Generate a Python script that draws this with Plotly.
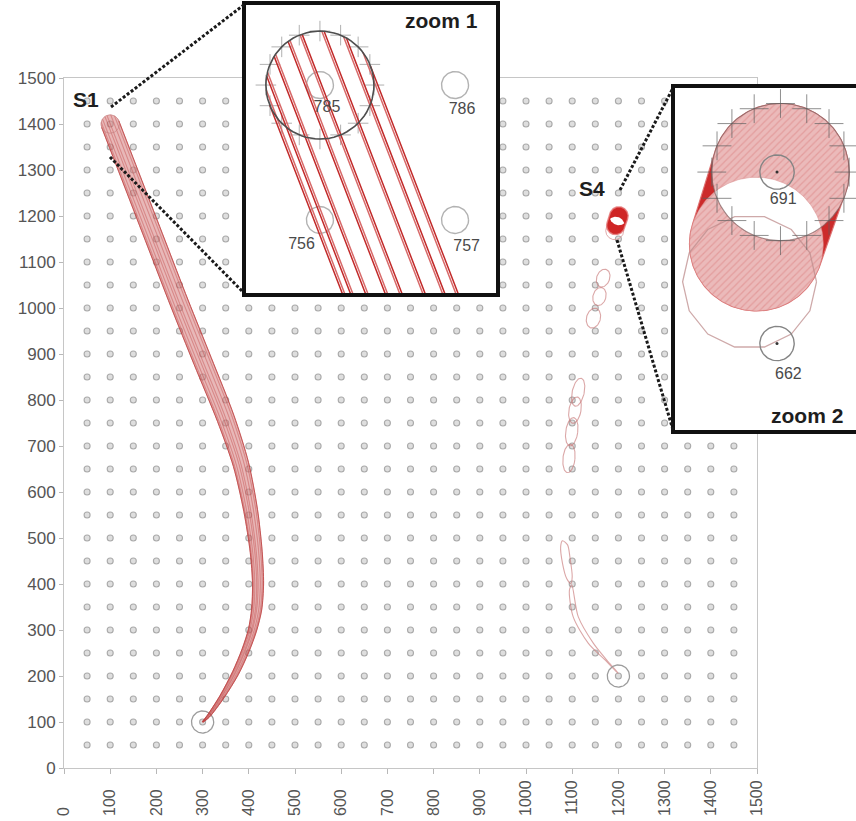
import numpy as np
import plotly.graph_objects as go

W, H = 856, 821

# ---------------------------------------------------------------- data
grid_x = list(range(50, 1451, 50))          # sensor columns (mm)
grid_y = list(range(50, 1451, 50))          # sensor rows (mm)
axis_ticks = list(range(0, 1501, 100))

# S1: centre line of the moving disc and its radius (mm)
s1_x = [100, 150, 200, 250, 300, 350, 383, 404, 416, 420, 417, 408, 393, 371, 342, 312, 300]
s1_y = [1400, 1270, 1140, 1010, 885, 760, 660, 560, 470, 400, 345, 300, 256, 206, 155, 112, 100]
s1_r = [20, 20, 20, 20, 20, 19, 17, 15, 13, 12, 11, 9, 8, 7, 5, 3, 1]
# tracked rim points, as a fraction of the radius across the track
s1_rim = [-1.0, -0.86, -0.6, -0.26, 0.03, 0.43, 0.77, 1.0]

# S4: disc at the start and at the end of its dwell, plus the ghost outline
s4_disc_x = [1201, 1194]
s4_disc_y = [1200, 1179]
s4_disc_r = [20, 19.5]
s4_ghost_x, s4_ghost_y, s4_ghost_r = 1192, 1168, 19.5

# S4 wandering loops: centre, half-width, half-height, tilt (deg)
loop_cx = [1167, 1159, 1146, 1113, 1106, 1099, 1093]
loop_cy = [1065, 1025, 978, 817, 778, 731, 673]
loop_a = [14, 14, 15, 13, 13, 13, 13]
loop_b = [20, 20, 22, 31, 29, 31, 31]
loop_tilt = [20, 15, 15, 12, 10, 8, 6]

# S4 final stretch
tail1_x = [1079, 1075, 1079, 1088, 1097, 1100, 1095, 1090, 1079]
tail1_y = [494, 481, 445, 412, 401, 416, 459, 485, 494]
tail2_x = [1099, 1113, 1146, 1178, 1200, 1196, 1171, 1135, 1102, 1094, 1099]
tail2_y = [398, 329, 271, 231, 206, 209, 235, 271, 329, 387, 398]

# end positions of both tracks
end_x = [300, 1200]
end_y = [100, 200]
END_R = 24

SENSOR_R = 5
inset1_ids = [785, 786, 756, 757]
inset2_ids = [691, 662]
label_shift = {785: (2.6, -8.5), 786: (2.6, -9.3), 756: (-6.8, -9.3),
               757: (4.3, -9.9), 691: (1.8, -8.2), 662: (3.3, -9.2)}

FONT = "Liberation Sans, Arial, sans-serif"


# ------------------------------------------------------------- helpers
def sensor_xy(sid):
    k = sid - 1
    return grid_x[k % len(grid_x)], grid_y[k // len(grid_x)]


def circle(cx, cy, r, n=73):
    t = np.linspace(0, 2 * np.pi, n)
    return cx + r * np.cos(t), cy + r * np.sin(t)


def ellipse(cx, cy, a, b, tilt, n=73):
    t = np.linspace(0, 2 * np.pi, n)
    th = np.radians(tilt)
    u, v = a * np.cos(t), b * np.sin(t)
    return cx + u * np.cos(th) + v * np.sin(th), cy - u * np.sin(th) + v * np.cos(th)


def join(parts):
    xs, ys = [], []
    for px, py in parts:
        xs += list(px) + [None]
        ys += list(py) + [None]
    return xs, ys


def hull(points):
    pts = sorted(map(tuple, points))

    def cross(o, a, b):
        return (a[0] - o[0]) * (b[1] - o[1]) - (a[1] - o[1]) * (b[0] - o[0])
    lower, upper = [], []
    for p in pts:
        while len(lower) >= 2 and cross(lower[-2], lower[-1], p) <= 0:
            lower.pop()
        lower.append(p)
    for p in reversed(pts):
        while len(upper) >= 2 and cross(upper[-2], upper[-1], p) <= 0:
            upper.pop()
        upper.append(p)
    h = np.array(lower[:-1] + upper[:-1] + [lower[0]])
    return h[:, 0], h[:, 1]


def px_x(px):
    return px / W


def px_y(py):
    return 1 - py / H


fig = go.Figure()
MAIN, IN1, IN2 = ("x", "y"), ("x2", "y2"), ("x3", "y3")


def add(axes, x, y, **kw):
    fig.add_trace(go.Scatter(x=x, y=y, xaxis=axes[0], yaxis=axes[1],
                             hoverinfo="skip", showlegend=False, **kw))


# ------------------------------------------------------ S1 geometry
P = np.column_stack([s1_x, s1_y]).astype(float)
R = np.array(s1_r, float)
T = np.gradient(P, axis=0)
T /= np.linalg.norm(T, axis=1)[:, None]
N = np.column_stack([-T[:, 1], T[:, 0]])

edge_plus = P + R[:, None] * N
edge_minus = P - R[:, None] * N
phi = np.linspace(0, np.pi, 25)
cap = P[0] + R[0] * (np.cos(phi)[:, None] * N[0] - np.sin(phi)[:, None] * T[0])
band = np.vstack([edge_minus, edge_plus[::-1], cap])


def rim_line(f):
    start = P[0] + f * R[0] * N[0] - np.sqrt(max(0.0, 1 - f * f)) * R[0] * T[0]
    pts = np.vstack([start, P + (f * R)[:, None] * N])
    return pts[:, 0], pts[:, 1]


rim_pairs = []
for f in s1_rim:
    rim_pairs.append(rim_line(f))
    rim_pairs.append(rim_line(f - 0.04 * np.sign(f) if f != 0 else 0.04))

# ------------------------------------------------------ S4 geometry
c1 = circle(s4_disc_x[0], s4_disc_y[0], s4_disc_r[0], 181)
c2 = circle(s4_disc_x[1], s4_disc_y[1], s4_disc_r[1], 181)
hx, hy = hull(np.vstack([np.column_stack(c1), np.column_stack(c2)]))

in2 = (c1[0] - s4_disc_x[1]) ** 2 + (c1[1] - s4_disc_y[1]) ** 2 <= s4_disc_r[1] ** 2
in1 = (c2[0] - s4_disc_x[0]) ** 2 + (c2[1] - s4_disc_y[0]) ** 2 <= s4_disc_r[0] ** 2
lens = np.vstack([np.column_stack([c1[0][in2], c1[1][in2]]),
                  np.column_stack([c2[0][in1], c2[1][in1]])])
mid = lens.mean(axis=0)
lens = lens[np.argsort(np.arctan2(lens[:, 1] - mid[1], lens[:, 0] - mid[0]))]
lens = np.vstack([lens, lens[:1]])

ghost = circle(s4_ghost_x, s4_ghost_y, s4_ghost_r, 15)


def crosses(cx, cy, r, arm, count=16):
    parts = []
    for k in range(count):
        a = 2 * np.pi * k / count
        x0, y0 = cx + r * np.cos(a), cy + r * np.sin(a)
        parts.append(([x0 - arm, x0 + arm], [y0, y0]))
        parts.append(([x0, x0], [y0 - arm, y0 + arm]))
    return join(parts)


# ------------------------------------------------------------ main plot
gx, gy = np.meshgrid(grid_x, grid_y)
add(MAIN, gx.ravel(), gy.ravel(), mode="markers",
    marker=dict(size=6, color="#dedede", line=dict(color="#aaaaaa", width=1.1)))

lx, ly = join([ellipse(*p) for p in zip(loop_cx, loop_cy, loop_a, loop_b, loop_tilt)])
add(MAIN, lx, ly, mode="lines", line=dict(color="rgba(200,120,120,0.65)", width=1.1))
for tx, ty in [(tail1_x, tail1_y), (tail2_x, tail2_y)]:
    add(MAIN, tx, ty, mode="lines",
        line=dict(color="rgba(200,120,120,0.65)", width=1.1, shape="spline", smoothing=0.8))

ex, ey = join([circle(x, y, END_R) for x, y in zip(end_x, end_y)])
add(MAIN, ex, ey, mode="lines", line=dict(color="#9c9c9c", width=1.3))

add(MAIN, band[:, 0], band[:, 1], mode="lines", fill="toself",
    fillcolor="rgba(214,125,125,0.55)",
    line=dict(width=0, shape="spline", smoothing=0.8))
rx, ry = join(rim_pairs)
add(MAIN, rx, ry, mode="lines",
    line=dict(color="rgba(180,40,40,0.26)", width=0.8, shape="spline", smoothing=0.8))
for e in (edge_plus, edge_minus):
    add(MAIN, e[:, 0], e[:, 1], mode="lines",
        line=dict(color="rgba(192,70,70,0.85)", width=1, shape="spline", smoothing=0.8))
sx, sy = circle(P[0, 0], P[0, 1], R[0])
add(MAIN, sx, sy, mode="lines", line=dict(color="rgba(200,130,130,0.7)", width=1))

add(MAIN, ghost[0], ghost[1], mode="lines", line=dict(color="rgba(215,150,150,0.8)", width=1))
add(MAIN, hx, hy, mode="lines", fill="toself", fillcolor="#cf2626",
    line=dict(color="rgba(230,120,120,0.8)", width=1.5))
add(MAIN, lens[:, 0], lens[:, 1], mode="lines", fill="toself", fillcolor="white",
    line=dict(width=0))

# ------------------------------------------------------------ inset 1
IN1_X, IN1_Y = [71.9, 165.9], [1322.2, 1430.4]
near1 = [(x, y) for x in grid_x for y in grid_y
         if IN1_X[0] - 10 < x < IN1_X[1] + 10 and IN1_Y[0] - 10 < y < IN1_Y[1] + 10]
dx, dy = join([circle(x, y, SENSOR_R) for x, y in near1])
add(IN1, dx, dy, mode="lines", line=dict(color="#b2b2b2", width=1.4))
cx_, cy_ = crosses(P[0, 0], P[0, 1], R[0], 3.8)
add(IN1, cx_, cy_, mode="lines", line=dict(color="rgba(150,150,150,0.75)", width=1))
for i, (x, y) in enumerate(rim_pairs):
    add(IN1, x, y, mode="lines",
        line=dict(color="#c22a2a" if i % 2 == 0 else "#d86a6a", width=1.5,
                  shape="spline", smoothing=0.8))
add(IN1, sx, sy, mode="lines", line=dict(color="#4e4e4e", width=1.6))
lab1 = [sensor_xy(s) for s in inset1_ids]
add(IN1, [p[0] + label_shift[s][0] for p, s in zip(lab1, inset1_ids)],
    [p[1] + label_shift[s][1] for p, s in zip(lab1, inset1_ids)],
    mode="text", text=[str(s) for s in inset1_ids],
    textfont=dict(family=FONT, size=16, color="#4a4a4a"))

# ------------------------------------------------------------ inset 2
IN2_X, IN2_Y = [1169.7, 1223.0], [1124.2, 1225.1]
add(IN2, hx, hy, mode="lines", fill="toself", fillcolor="#cc2b2b",
    line=dict(color="rgba(220,110,110,0.9)", width=1.2))
for c in (c2, c1):
    add(IN2, c[0], c[1], mode="lines", fill="toself", fillcolor="#ebb9b9",
        fillpattern=dict(shape="/", bgcolor="#ebbaba", fgcolor="rgba(205,80,80,0.55)",
                         size=5, solidity=0.25),
        line=dict(color="rgba(215,120,120,0.6)", width=0.8))
add(IN2, lens[:, 0], lens[:, 1], mode="lines", fill="toself", fillcolor="white",
    line=dict(color="rgba(215,140,140,0.6)", width=0.8))
add(IN2, ghost[0], ghost[1], mode="lines", line=dict(color="rgba(190,140,140,0.75)", width=1.3))
add(IN2, c1[0], c1[1], mode="lines", line=dict(color="rgba(80,80,80,0.45)", width=1.1))
cx2, cy2 = crosses(s4_disc_x[0], s4_disc_y[0], s4_disc_r[0], 4.2)
add(IN2, cx2, cy2, mode="lines", line=dict(color="rgba(95,95,95,0.7)", width=1))
lab2 = [sensor_xy(s) for s in inset2_ids]
dx2, dy2 = join([circle(x, y, SENSOR_R) for x, y in lab2])
add(IN2, dx2, dy2, mode="lines", line=dict(color="#858585", width=1.4))
add(IN2, [p[0] for p in lab2], [p[1] for p in lab2], mode="markers",
    marker=dict(size=3, color="#333"))
add(IN2, [p[0] + label_shift[s][0] for p, s in zip(lab2, inset2_ids)],
    [p[1] + label_shift[s][1] for p, s in zip(lab2, inset2_ids)],
    mode="text", text=[str(s) for s in inset2_ids],
    textfont=dict(family=FONT, size=16, color="#4a4a4a"))

# ------------------------------------------------------------- layout
tick_font = dict(family=FONT, size=16, color="#555555")
hidden = dict(visible=False, showgrid=False, zeroline=False, fixedrange=True)

fig.update_layout(
    width=W, height=H, margin=dict(l=0, r=0, t=0, b=0),
    paper_bgcolor="white", plot_bgcolor="white", showlegend=False,
    xaxis=dict(domain=[px_x(64), px_x(757)], range=[0, 1500], tickmode="array",
               tickvals=axis_ticks,
               ticktext=[str(v) + "\u2007" * (4 - len(str(v))) for v in axis_ticks],
               tickangle=-90, ticks="outside", ticklen=5, tickcolor="#b8b8b8",
               showline=True, linecolor="#c6c6c6", linewidth=1, mirror=True,
               showgrid=False, zeroline=False, tickfont=tick_font, fixedrange=True,
               automargin=False),
    yaxis=dict(domain=[px_y(768), px_y(78)], range=[0, 1500], tickmode="array",
               tickvals=axis_ticks, ticks="outside", ticklen=4, tickcolor="#b8b8b8",
               showline=True, linecolor="#c6c6c6", linewidth=1, mirror=True,
               showgrid=False, zeroline=False,
               tickfont=dict(family=FONT, size=17, color="#555555"),
               fixedrange=True, automargin=False),
    xaxis2=dict(domain=[px_x(244), px_x(498)], range=IN1_X, anchor="y2", **hidden),
    yaxis2=dict(domain=[px_y(295), px_y(3)], range=IN1_Y, anchor="x2", **hidden),
    xaxis3=dict(domain=[px_x(673), 1.0], range=IN2_X, anchor="y3", **hidden),
    yaxis3=dict(domain=[px_y(432), px_y(86)], range=IN2_Y, anchor="x3", **hidden),
)

# inset frames and connector lines
for x0, y0, x1, y1 in [(244, 3, 498, 295), (673, 86, 862, 432)]:
    fig.add_shape(type="rect", xref="paper", yref="paper",
                  x0=px_x(x0), x1=px_x(x1), y0=px_y(y1), y1=px_y(y0),
                  line=dict(color="#111111", width=4), fillcolor="rgba(0,0,0,0)")
for x0, y0, x1, y1 in [(111, 107, 245, 4), (110, 157, 243, 292),
                       (620, 190, 673, 88), (617, 240, 673, 430)]:
    fig.add_shape(type="line", xref="paper", yref="paper",
                  x0=px_x(x0), y0=px_y(y0), x1=px_x(x1), y1=px_y(y1),
                  line=dict(color="#1a1a1a", width=3, dash="3px,2px"))

for text, x, y in [("S1", 86, 99), ("S4", 592, 189), ("zoom 1", 441, 20), ("zoom 2", 807, 415)]:
    fig.add_annotation(text=f"<b>{text}</b>", xref="paper", yref="paper",
                       x=px_x(x), y=px_y(y), xanchor="center", yanchor="middle",
                       showarrow=False, font=dict(family=FONT, size=21, color="#1e1e1e"))

fig.write_html("out.html", config=dict(displayModeBar=False))
